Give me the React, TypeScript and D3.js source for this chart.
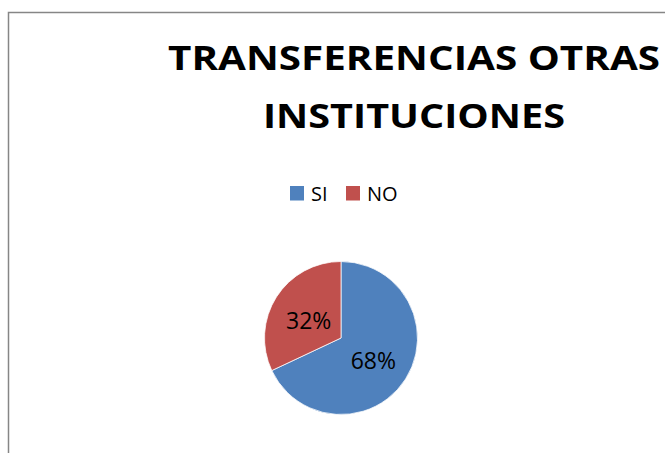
import React, { useEffect, useRef } from "react";
import * as d3 from "d3";

// chart data
const categories = ["SI", "NO"];
const values = [68, 32];
const colors = ["#4F81BD", "#C0504D"];
const titleLines = ["TRANSFERENCIAS OTRAS", "INSTITUCIONES"];

const width = 665;
const height = 453;

export default function App() {
    const ref = useRef<SVGSVGElement>(null);

    useEffect(() => {
        drawChart();
    }, []);

    function drawChart() {
        const svg = d3.select(ref.current);
        svg.selectAll("*").remove();

        svg.append("rect")
            .attr("width", width)
            .attr("height", height)
            .attr("fill", "#ffffff");

        // chart frame (cropped at right and bottom)
        svg.append("rect")
            .attr("x", 8.5)
            .attr("y", 12.5)
            .attr("width", 720)
            .attr("height", 500)
            .attr("fill", "none")
            .attr("stroke", "#868686")
            .attr("stroke-width", 1.5);

        // title
        const title = svg.append("g")
            .attr("font-family", "'Open Sans', sans-serif")
            .attr("font-weight", "bold")
            .attr("font-size", 34.5)
            .attr("fill", "#000000")
            .attr("text-anchor", "middle");

        const lineWidths = [492, 302];
        const baselines = [70, 128];
        titleLines.forEach((t, i) => {
            title.append("text")
                .attr("x", 414)
                .attr("y", baselines[i])
                .attr("textLength", lineWidths[i])
                .attr("lengthAdjust", "spacingAndGlyphs")
                .text(t);
        });

        // legend
        const legendX = d3.scalePoint<string>()
            .domain(categories)
            .range([290, 346]);

        const legend = svg.append("g")
            .selectAll("g")
            .data(categories)
            .enter()
            .append("g")
            .attr("transform", (d) => `translate(${legendX(d)}, 186)`);

        legend.append("rect")
            .attr("width", 14)
            .attr("height", 14.5)
            .attr("fill", (_, i) => colors[i]);

        legend.append("text")
            .attr("x", 21)
            .attr("y", 15)
            .attr("font-family", "'Open Sans', sans-serif")
            .attr("font-size", 20)
            .attr("fill", "#000000")
            .text((d) => d);

        // pie
        const radius = 76.5;
        const g = svg.append("g")
            .attr("transform", "translate(341, 338)");

        const pieGenerator = d3.pie<number>()
            .sort(null)
            .value((d) => d);

        const arcGenerator = d3.arc<d3.PieArcDatum<number>>()
            .innerRadius(0)
            .outerRadius(radius);

        const arcs = g.selectAll("g")
            .data(pieGenerator(values))
            .enter()
            .append("g");

        arcs.append("path")
            .attr("d", arcGenerator)
            .attr("fill", (_, i) => colors[i])
            .attr("stroke", "#ffffff")
            .attr("stroke-width", 0.75);

        const total = d3.sum(values);
        arcs.append("text")
            .attr("text-anchor", "middle")
            .attr("dominant-baseline", "central")
            .attr("font-family", "'Open Sans', sans-serif")
            .attr("font-size", 23)
            .attr("fill", "#000000")
            .attr("transform", (d) => {
                const [x, y] = arcGenerator.centroid(d);
                return `translate(${x}, ${y + 2})`;
            })
            .text((d) => `${Math.round((d.data / total) * 100)}%`);
    }

    return (
        <svg
            ref={ref}
            width={width}
            height={height}
            style={{ position: "fixed", left: 0, top: 0, display: "block" }}
        />
    );
}
